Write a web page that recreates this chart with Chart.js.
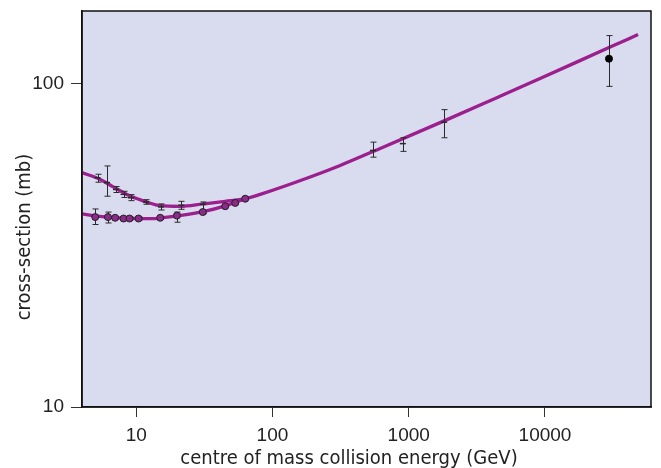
<!DOCTYPE html>
<html><head><meta charset="utf-8">
<script src="https://cdn.jsdelivr.net/npm/chart.js@4/dist/chart.umd.min.js"></script>
<style>html,body{margin:0;padding:0;background:#fff;}#wrap{width:661px;height:468px;}</style>
</head><body><div id="wrap"><canvas id="c" width="661" height="468"></canvas></div>
<script>
// ---- axis ticks and titles ----
const xTicks = [10, 100, 1000, 10000];
const yTicks = [10, 100];
const xTitle = 'centre of mass collision energy (GeV)';
const yTitle = 'cross-section (mb)';

// ---- fitted curves ----
const curveUpperE = [4.0, 5.44, 6.78, 9.04, 11.98, 15.0, 21.0, 31.0, 45.0, 63.1, 81.3, 189, 314, 617, 1820, 4305, 9200, 29500, 48200];
const curveUpperS = [53.1, 50.6, 48.0, 44.95, 43.05, 41.97, 41.77, 42.5, 43.27, 44.1, 45.5, 51.5, 55.9, 63.1, 76.8, 90.1, 103.8, 129.5, 142.0];
const curveLowerE = [4.0, 5.0, 6.45, 9.04, 12.67, 15.0, 20.0, 31.0, 45.0, 63.1];
const curveLowerS = [39.6, 39.0, 38.6, 38.35, 38.25, 38.4, 39.0, 40.2, 41.9, 44.1];

// ---- antiproton-proton measurements ----
const pbarE  = [5.2, 6.1, 7.1, 8.07, 9.14, 11.8, 15.2, 21.4, 30.8, 547, 905, 1820];
const pbarS  = [51.2, 49.5, 47.1, 45.5, 44.4, 43.1, 41.6, 42.1, 42.4, 62.2, 65.3, 76.1];
const pbarLo = [49.6, 44.9, 46.1, 44.5, 43.5, 42.4, 40.7, 40.9, 39.6, 59.3, 61.8, 68.1];
const pbarHi = [52.5, 55.7, 48.1, 46.5, 45.4, 43.8, 42.5, 43.3, 43.1, 66.0, 68.1, 83.2];

// ---- proton-proton measurements ----
const ppE  = [5.0, 6.2, 7.0, 8.07, 8.93, 10.4, 15.0, 19.9, 30.8, 45.0, 53.3, 63.1];
const ppS  = [38.7, 38.7, 38.5, 38.3, 38.3, 38.3, 38.5, 39.1, 40.1, 41.8, 42.8, 44.1];
const ppLo = [36.7, 37.1, 38.1, 37.9, 37.9, 37.9, 38.1, 37.3, 39.7, 41.4, 42.4, 43.7];
const ppHi = [41.0, 40.1, 38.9, 38.7, 38.7, 38.7, 38.9, 40.1, 40.5, 42.2, 43.2, 44.5];

// ---- cosmic ray estimate ----
const cosE  = [29500];
const cosS  = [119.6];
const cosLo = [98.2];
const cosHi = [141.0];

const pts = (xs, ys) => xs.map((v, i) => ({x: v, y: ys[i]}));

const bgPlugin = {
  id: 'bg',
  beforeDraw(chart) {
    const {ctx, chartArea: a} = chart;
    ctx.save();
    ctx.fillStyle = '#d9dbef';
    ctx.fillRect(a.left, a.top, a.right - a.left, a.bottom - a.top);
    ctx.restore();
  },
  afterDraw(chart) {
    const {ctx, chartArea: a} = chart;
    ctx.save();
    ctx.strokeStyle = '#111';
    ctx.lineWidth = 1.5;
    ctx.strokeRect(a.left, a.top, a.right - a.left, a.bottom - a.top);
    ctx.fillStyle = '#222';
    ctx.font = '20px "Liberation Sans Narrow", "DejaVu Sans Condensed", sans-serif';
    ctx.textAlign = 'center';
    ctx.textBaseline = 'middle';
    ctx.fillText(xTitle, 349, 459);
    ctx.translate(25, 237);
    ctx.rotate(-Math.PI / 2);
    ctx.fillText(yTitle, 0, 0);
    ctx.restore();
  }
};

const errPlugin = {
  id: 'err',
  beforeDatasetDraw(chart, args) {
    const ds = chart.data.datasets[args.index];
    if (!ds.errLo) return;
    const {ctx, scales: {x, y}} = chart;
    ctx.save();
    ctx.strokeStyle = '#2a2a2a';
    ctx.lineWidth = 1;
    ds.data.forEach((p, i) => {
      const px = Math.round(x.getPixelForValue(p.x)) + 0.5;
      const y1 = y.getPixelForValue(ds.errLo[i]);
      const y2 = y.getPixelForValue(ds.errHi[i]);
      ctx.beginPath();
      ctx.moveTo(px, y1); ctx.lineTo(px, y2);
      ctx.moveTo(px - 3, y1); ctx.lineTo(px + 3, y1);
      ctx.moveTo(px - 3, y2); ctx.lineTo(px + 3, y2);
      ctx.stroke();
    });
    ctx.restore();
  }
};

const curveColor = '#9c1f8e';
const tickFont = {family: '"Liberation Sans", Arial, sans-serif', size: 19};

new Chart(document.getElementById('c'), {
  type: 'scatter',
  data: {
    datasets: [
      {data: pts(curveUpperE, curveUpperS), showLine: true, borderColor: curveColor, borderWidth: 3.3,
       pointRadius: 0, cubicInterpolationMode: 'monotone', order: 3},
      {data: pts(curveLowerE, curveLowerS), showLine: true, borderColor: curveColor, borderWidth: 3.3,
       pointRadius: 0, cubicInterpolationMode: 'monotone', order: 3},
      {data: pts(pbarE, pbarS), errLo: pbarLo, errHi: pbarHi, pointStyle: 'line', pointRadius: 3,
       borderColor: '#2a2a2a', borderWidth: 1.5, order: 2},
      {data: pts(ppE, ppS), errLo: ppLo, errHi: ppHi, pointStyle: 'circle', pointRadius: 3.5,
       backgroundColor: '#8a2a8a', borderColor: '#222', borderWidth: 1, order: 1},
      {data: pts(cosE, cosS), errLo: cosLo, errHi: cosHi, pointStyle: 'circle', pointRadius: 3.5,
       backgroundColor: '#000', borderColor: '#000', borderWidth: 1, order: 1}
    ]
  },
  options: {
    responsive: false,
    animation: false,
    layout: {padding: {top: 11, right: 10, bottom: 0, left: 0}},
    plugins: {legend: {display: false}, tooltip: {enabled: false}},
    scales: {
      x: {
        type: 'logarithmic', min: 4, max: 60000,
        afterBuildTicks: s => { s.ticks = xTicks.map(v => ({value: v})); },
        afterFit: s => { s.height = 61; s.paddingLeft = 0; s.paddingRight = 0; },
        ticks: {callback: v => String(v), font: tickFont, color: '#222', padding: 7, maxRotation: 0, autoSkip: false},
        grid: {drawOnChartArea: false, drawTicks: true, tickLength: 10, color: '#333', lineWidth: 1},
        border: {display: true, color: '#111', width: 1.5}
      },
      y: {
        type: 'logarithmic', min: 10, max: 168,
        afterBuildTicks: s => { s.ticks = yTicks.map(v => ({value: v})); },
        afterFit: s => { s.width = 82; s.paddingTop = 0; s.paddingBottom = 0; },
        ticks: {callback: v => String(v), font: tickFont, color: '#222', padding: 7, autoSkip: false},
        grid: {drawOnChartArea: false, drawTicks: true, tickLength: 11, color: '#333', lineWidth: 1},
        border: {display: true, color: '#111', width: 1.5}
      }
    }
  },
  plugins: [bgPlugin, errPlugin]
});
</script>
</body></html>
